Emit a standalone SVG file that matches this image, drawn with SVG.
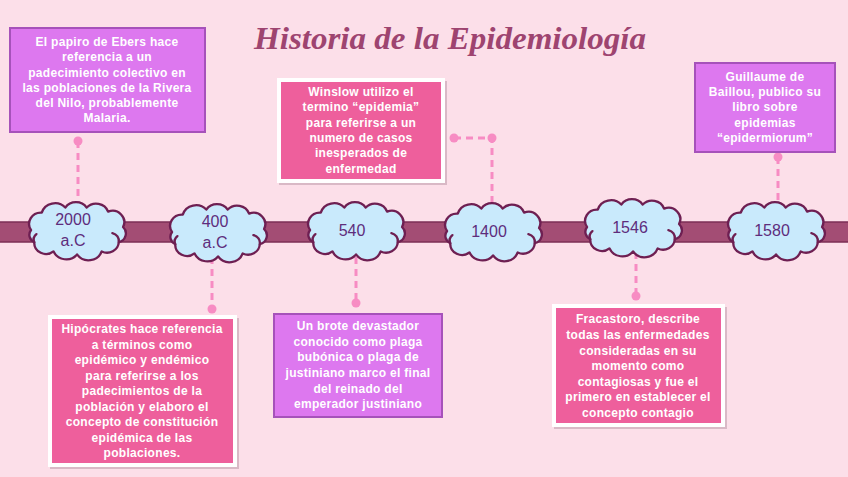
<svg xmlns="http://www.w3.org/2000/svg" xmlns:xlink="http://www.w3.org/1999/xlink" width="848" height="477" viewBox="0 0 848 477">
<style>
.bg{fill:#fcdfe9}
.bar{fill:#a34d74;stroke:#7c2f55;stroke-width:1.5}
.cloud{fill:#c9eafc;stroke:#6e1f52;stroke-width:2.2;stroke-linejoin:round}
.curl{fill:none;stroke:#6e1f52;stroke-width:2.2;stroke-linecap:round}
.yr{font-family:"Liberation Sans",Arial,sans-serif;font-size:16px;fill:#5e2d7c;text-anchor:middle}
.purple{fill:#dd78ef;stroke:#a652ba;stroke-width:2}
.pink{fill:#ee5f9c;stroke:#ffffff;stroke-width:4}
.shadow{fill:#d9b9c6}
.txt{font-family:"Liberation Sans",Arial,sans-serif;font-size:12px;font-weight:bold;fill:#ffffff;text-anchor:middle;letter-spacing:0.3px}
.conn{fill:none;stroke:#f78cc3;stroke-width:3;stroke-dasharray:7 5}
.dot{fill:#f78cc3}
.title{font-family:"Liberation Serif","DejaVu Serif",serif;font-style:italic;font-weight:bold;font-size:31px;fill:#9e4470}
</style>
<defs>
<g id="cloud">
<path class="cloud" d="M -42,0 A 11 11 0 0 1 -32,-17 A 13 13 0 0 1 -10,-22 A 12 12 0 0 1 10,-22 A 12 12 0 0 1 30,-18 A 11 11 0 0 1 44,-3 A 9 9 0 0 1 40,12 A 11 11 0 0 1 24,21 A 13 13 0 0 1 1,24 A 13 13 0 0 1 -21,21 A 11 11 0 0 1 -39,12 A 8 8 0 0 1 -42,0 Z"/>
<path class="curl" d="M 34,3 A 8 8 0 0 1 40,12"/>
<path class="curl" d="M -37,4 A 7 7 0 0 0 -39,12"/>
</g>
</defs>
<rect class="bg" x="0" y="0" width="848" height="477"/>
<text class="title" x="450" y="49" text-anchor="middle" textLength="392" lengthAdjust="spacingAndGlyphs">Historia de la Epidemiología</text>
<rect class="bar" x="-2" y="222" width="852" height="20"/>
<g id="connectors">
<path class="conn" d="M78,141 V206"/>
<circle class="dot" cx="78" cy="141" r="4.5"/>
<path class="conn" d="M212,257 V309"/>
<circle class="dot" cx="212" cy="309" r="4.5"/>
<path class="conn" d="M356,257 V303"/>
<circle class="dot" cx="356" cy="303" r="4.5"/>
<path class="conn" d="M454,138 H492 V206"/>
<circle class="dot" cx="454" cy="138" r="4.5"/>
<circle class="dot" cx="492" cy="138" r="4.5"/>
<path class="conn" d="M636,252 V296"/>
<circle class="dot" cx="636" cy="296" r="4.5"/>
<path class="conn" d="M778,157 V205"/>
<circle class="dot" cx="778" cy="157" r="4.5"/>
</g>
<g id="year-2000">
<use xlink:href="#cloud" href="#cloud" transform="translate(76,230) scale(1.07,1.02)"/>
<text class="yr" x="73" y="225">2000</text>
<text class="yr" x="73" y="246">a.C</text>
</g>
<g id="year-400">
<use xlink:href="#cloud" href="#cloud" transform="translate(217,232) scale(1.07,1.02)"/>
<text class="yr" x="215" y="227">400</text>
<text class="yr" x="215" y="248">a.C</text>
</g>
<g id="year-540">
<use xlink:href="#cloud" href="#cloud" transform="translate(355,230) scale(1.07,1.02)"/>
<text class="yr" x="352" y="236">540</text>
</g>
<g id="year-1400">
<use xlink:href="#cloud" href="#cloud" transform="translate(492,231) scale(1.07,1.02)"/>
<text class="yr" x="489" y="237">1400</text>
</g>
<g id="year-1546">
<use xlink:href="#cloud" href="#cloud" transform="translate(632,227) scale(1.07,1.02)"/>
<text class="yr" x="630" y="233">1546</text>
</g>
<g id="year-1580">
<use xlink:href="#cloud" href="#cloud" transform="translate(775,230) scale(1.07,1.02)"/>
<text class="yr" x="772" y="236">1580</text>
</g>
<g id="box-ebers">
<rect class="purple" x="10" y="28" width="195" height="104"/>
<text class="txt" x="107" y="46">El papiro de Ebers hace</text>
<text class="txt" x="107" y="61">referencia a un</text>
<text class="txt" x="107" y="77">padecimiento colectivo en</text>
<text class="txt" x="107" y="92">las poblaciones de la Rivera</text>
<text class="txt" x="107" y="107">del Nilo, probablemente</text>
<text class="txt" x="107" y="122">Malaria.</text>
</g>
<g id="box-winslow">
<rect class="shadow" x="279" y="81" width="168" height="104"/>
<rect class="pink" x="279" y="80" width="164" height="101"/>
<text class="txt" x="361" y="96">Winslow utilizo el</text>
<text class="txt" x="361" y="111">termino “epidemia”</text>
<text class="txt" x="361" y="127">para referirse a un</text>
<text class="txt" x="361" y="142">numero de casos</text>
<text class="txt" x="361" y="157">inesperados de</text>
<text class="txt" x="361" y="173">enfermedad</text>
</g>
<g id="box-baillou">
<rect class="purple" x="695" y="63" width="140" height="89"/>
<text class="txt" x="765" y="81">Guillaume de</text>
<text class="txt" x="765" y="96">Baillou, publico su</text>
<text class="txt" x="765" y="111">libro sobre</text>
<text class="txt" x="765" y="127">epidemias</text>
<text class="txt" x="765" y="142">“epidermiorum”</text>
</g>
<g id="box-hipocrates">
<rect class="shadow" x="50" y="318" width="189" height="151"/>
<rect class="pink" x="50" y="317" width="185" height="148"/>
<text class="txt" x="142" y="333">Hipócrates hace referencia</text>
<text class="txt" x="142" y="349">a términos como</text>
<text class="txt" x="142" y="364">epidémico y endémico</text>
<text class="txt" x="142" y="380">para referirse a los</text>
<text class="txt" x="142" y="395">padecimientos de la</text>
<text class="txt" x="142" y="411">población y elaboro el</text>
<text class="txt" x="142" y="426">concepto de constitución</text>
<text class="txt" x="142" y="442">epidémica de las</text>
<text class="txt" x="142" y="457">poblaciones.</text>
</g>
<g id="box-brote">
<rect class="purple" x="274" y="314" width="168" height="103"/>
<text class="txt" x="358" y="330">Un brote devastador</text>
<text class="txt" x="358" y="346">conocido como plaga</text>
<text class="txt" x="358" y="361">bubónica o plaga de</text>
<text class="txt" x="358" y="377">justiniano marco el final</text>
<text class="txt" x="358" y="393">del reinado del</text>
<text class="txt" x="358" y="408">emperador justiniano</text>
</g>
<g id="box-fracastoro">
<rect class="shadow" x="554" y="307" width="173" height="122"/>
<rect class="pink" x="554" y="306" width="169" height="119"/>
<text class="txt" x="638" y="323">Fracastoro, describe</text>
<text class="txt" x="638" y="339">todas las enfermedades</text>
<text class="txt" x="638" y="355">consideradas en su</text>
<text class="txt" x="638" y="370">momento como</text>
<text class="txt" x="638" y="386">contagiosas y fue el</text>
<text class="txt" x="638" y="401">primero en establecer el</text>
<text class="txt" x="638" y="417">concepto contagio</text>
</g>
</svg>
